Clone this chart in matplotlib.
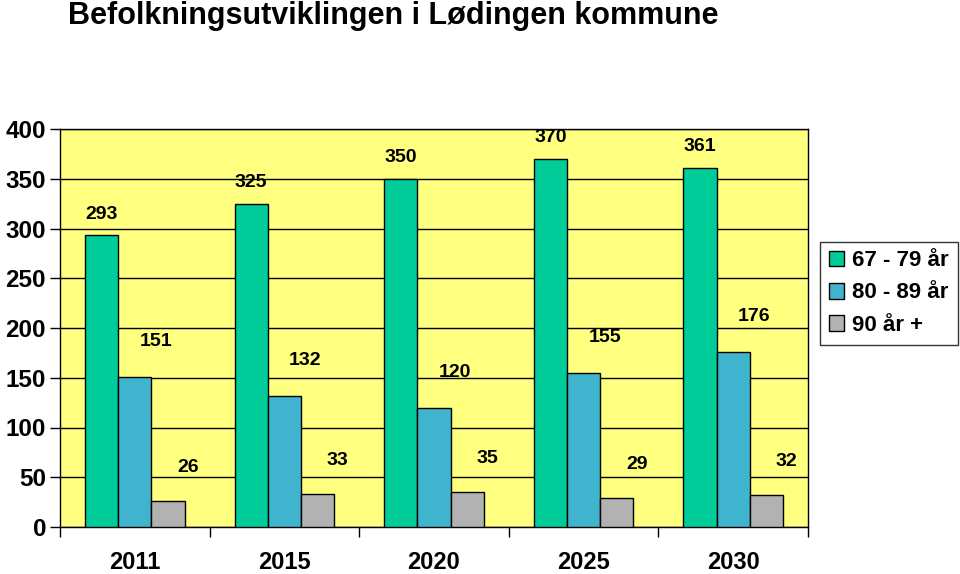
import matplotlib
matplotlib.use("Agg")
import matplotlib.pyplot as plt
import numpy as np

plt.rcParams['font.family'] = ['Liberation Sans', 'DejaVu Sans']
plt.rcParams['font.weight'] = 'bold'

years = ["2011", "2015", "2020", "2025", "2030"]
series_names = ["67 - 79 år", "80 - 89 år", "90 år +"]
v_67_79 = [293, 325, 350, 370, 361]
v_80_89 = [151, 132, 120, 155, 176]
v_90 = [26, 33, 35, 29, 32]
colors = ["#00CC99", "#40B4CE", "#B2B2B2"]
yticks = [0, 50, 100, 150, 200, 250, 300, 350, 400]

fig = plt.figure(figsize=(9.6, 5.74), dpi=100)
ax = fig.add_axes([60/960, 1-527/574, 748/960, 398/574])
ax.set_facecolor("#FFFF80")

x = np.arange(len(years))
w = 0.2222
all_vals = [v_67_79, v_80_89, v_90]
offsets = [(0, 21), (21, 35), (20, 34)]
for i, (vals, name, c) in enumerate(zip(all_vals, series_names, colors)):
    xs = x + (i - 1) * w
    ax.bar(xs, vals, width=w, color=c, edgecolor="black", linewidth=1.0, label=name, zorder=3)
    dx, dy = offsets[i]
    for xi, v in zip(xs, vals):
        ax.annotate(str(v), (xi, v), xytext=(dx, dy), textcoords="offset pixels",
                    ha="center", va="center", fontsize=14, fontweight="bold", zorder=4)

ax.set_xlim(-0.5, len(years) - 0.5)
ax.set_ylim(0, 400)
ax.set_yticks(yticks)
ax.set_yticklabels([str(t) for t in yticks], fontsize=17.5)
ax.yaxis.grid(True, color="black", linewidth=1.0, zorder=1)
ax.set_axisbelow(True)

ax.set_xticks(np.arange(-0.5, len(years)), minor=False)
ax.set_xticklabels([""] * (len(years) + 1))
ax.set_xticks(x, minor=True)
ax.set_xticklabels(years, minor=True, fontsize=17)
ax.tick_params(axis="x", which="major", direction="out", length=7, width=1)
ax.tick_params(axis="x", which="minor", length=0, pad=17)
ax.tick_params(axis="y", direction="out", length=7, width=1, pad=3)

for s in ax.spines.values():
    s.set_color("black")
    s.set_linewidth(1.0)

fig.text(68/960, 1-16/574, "Befolkningsutviklingen i Lødingen kommune", fontsize=22,
         fontweight="bold", ha="left", va="center")

leg = ax.legend(loc="center left", bbox_to_anchor=(820/960, 1-293/574), bbox_transform=fig.transFigure,
                fontsize=16, frameon=True, fancybox=False, edgecolor="black",
                handlelength=0.7, handleheight=0.7, handletextpad=0.35, borderpad=0.4,
                labelspacing=0.5, borderaxespad=0)
leg.get_frame().set_linewidth(1.0)

fig.savefig("out.png", dpi=100)
